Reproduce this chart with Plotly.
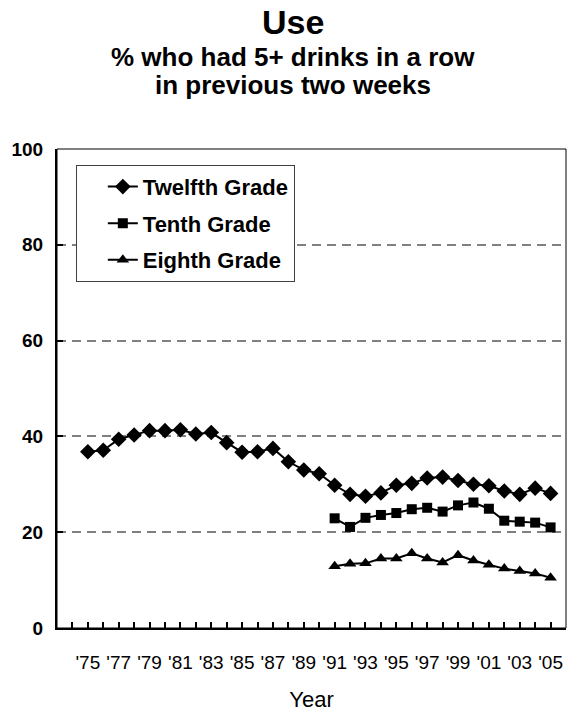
import plotly.graph_objects as go

years = list(range(1975, 2006))
years_lower = list(range(1991, 2006))

twelfth = [36.8, 37.1, 39.4, 40.3, 41.2, 41.2, 41.4, 40.5, 40.8, 38.7,
           36.7, 36.8, 37.5, 34.7, 33.0, 32.2, 29.8, 27.9, 27.5, 28.2,
           29.8, 30.2, 31.3, 31.5, 30.8, 30.0, 29.7, 28.6, 27.9, 29.2, 28.1]
tenth = [22.9, 21.1, 23.0, 23.6, 24.0, 24.8, 25.1, 24.3, 25.6, 26.2,
         24.9, 22.4, 22.2, 22.0, 21.0]
eighth = [12.9, 13.4, 13.5, 14.5, 14.5, 15.6, 14.5, 13.7, 15.2, 14.1,
          13.2, 12.4, 11.9, 11.4, 10.5]

tick_years = list(range(1974, 2006))
tick_text = [("'" + str(y)[2:]) if y % 2 == 1 else "" for y in tick_years]
y_ticks = [0, 20, 40, 60, 80, 100]

title_text = "Use"
subtitle_lines = ["% who had 5+ drinks in a row", "in previous two weeks"]

FONT = "Liberation Sans, Arial, sans-serif"

fig = go.Figure()
series = [
    ("Twelfth Grade", years, twelfth, "diamond", 12),
    ("Tenth Grade", years_lower, tenth, "square", 10),
    ("Eighth Grade", years_lower, eighth, "triangle-up", 11),
]
for name, xs, ys, sym, sz in series:
    fig.add_trace(go.Scatter(
        x=xs, y=ys, name=name, mode="lines+markers",
        line=dict(color="black", width=2),
        marker=dict(symbol=sym, size=sz, color="black"),
        legendgroup=name,
    ))

annotations = [
    dict(text="<b>%s</b>" % title_text, xref="paper", yref="paper", x=0.463, y=1.0,
         xanchor="center", yanchor="middle", yshift=127, showarrow=False,
         font=dict(size=34, family=FONT)),
]
for i, line in enumerate(subtitle_lines):
    annotations.append(dict(
        text="<b>%s</b>" % line, xref="paper", yref="paper", x=0.463, y=1.0,
        xanchor="center", yanchor="middle", yshift=92 - 28 * i, showarrow=False,
        font=dict(size=26, family=FONT)))

fig.update_layout(
    width=567, height=717,
    margin=dict(l=57, r=1, t=149, b=89),
    paper_bgcolor="white", plot_bgcolor="white",
    font=dict(family=FONT, color="black"),
    showlegend=True,
    legend=dict(
        x=0.037, y=0.967, xanchor="left", yanchor="top",
        bgcolor="white", bordercolor="#404040", borderwidth=1,
        font=dict(size=22, family=FONT, color="black", weight="bold"),
        tracegroupgap=5, indentation=26,
    ),
    xaxis=dict(
        range=[1973, 2006], tickmode="array", tickvals=tick_years, ticktext=tick_text,
        ticks="inside", ticklen=6, tickwidth=2, tickcolor="black",
        showline=True, linecolor="black", linewidth=2, showgrid=False, zeroline=False,
        tickfont=dict(size=19, family=FONT), ticklabelstandoff=16, automargin=False,
        title=dict(text="Year", font=dict(size=22, family=FONT), standoff=20),
    ),
    yaxis=dict(
        range=[0, 100], tickmode="array", tickvals=y_ticks,
        ticks="inside", ticklen=6, tickwidth=2, tickcolor="black",
        showline=True, linecolor="black", linewidth=2, zeroline=False,
        showgrid=True, gridcolor="#808080", gridwidth=1.5, griddash="9px,6px",
        tickfont=dict(size=19, family=FONT, weight="bold"), ticklabelstandoff=8,
        automargin=False,
    ),
    shapes=[dict(type="rect", xref="paper", yref="paper", x0=0, y0=0, x1=1, y1=1,
                 line=dict(color="black", width=1), layer="above")],
    annotations=annotations,
)

fig.write_html("out.html", config={"displayModeBar": False},
               post_script="document.body.style.margin='0';")
